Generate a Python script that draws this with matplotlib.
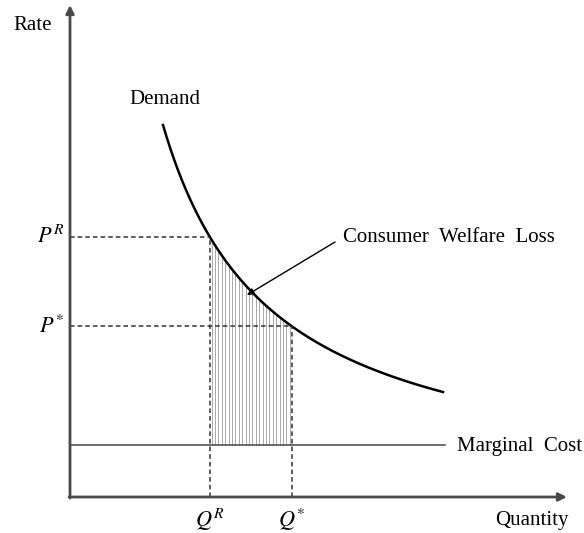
import numpy as np
import matplotlib
matplotlib.use("Agg")
import matplotlib.pyplot as plt

plt.rcParams['font.family'] = ['Liberation Serif', 'DejaVu Serif']
plt.rcParams['mathtext.fontset'] = 'stix'

# Conceptual values (economic coordinates)
demand_A, demand_b, demand_c = 39958.0, 15.0, 2.0   # P = A/(Q+b) + c
q_range = [93, 373]
Q_R = 140
Q_star = 222
MC = 52
MC_end = 375
x_axis_end = 497
y_axis_end = 492

def demand(q):
    return demand_A / (np.asarray(q) + demand_b) + demand_c

P_R = float(demand(Q_R))
P_star = float(demand(Q_star))

fig = plt.figure(figsize=(5.84, 5.33), dpi=100)
ax = fig.add_axes([0, 0, 1, 1])
ax.set_xlim(-70, 514)
ax.set_ylim(-36, 497)
ax.axis('off')

axcol = '#4a4a4a'
# axes with arrows
ax.annotate('', xy=(0, y_axis_end), xytext=(0, -1),
            arrowprops=dict(arrowstyle='-|>', color=axcol, lw=2, mutation_scale=12, shrinkA=0, shrinkB=0))
ax.annotate('', xy=(x_axis_end, 0), xytext=(-1, 0),
            arrowprops=dict(arrowstyle='-|>', color=axcol, lw=2, mutation_scale=12, shrinkA=0, shrinkB=0))

# hatched welfare region
xs = np.arange(Q_R + 1.5, Q_star, 3.4)
ax.vlines(xs, MC, demand(xs), color='#a8a8a8', lw=0.7)

# demand curve
q = np.linspace(q_range[0], q_range[1], 300)
ax.plot(q, demand(q), color='black', lw=1.8)

# marginal cost
ax.plot([0, MC_end], [MC, MC], color='#444444', lw=1.1)

# dashed guides
dash = dict(color='#333333', lw=1.1, linestyle=(0, (3, 2)))
ax.plot([0, Q_R], [P_R, P_R], **dash)
ax.plot([0, Q_star], [P_star, P_star], **dash)
ax.plot([Q_R, Q_R], [0, P_R], **dash)
ax.plot([Q_star, Q_star], [0, P_star], **dash)

# labels
fs = 15
ax.text(-37, 472, 'Rate', fontsize=fs, ha='center', va='center')
ax.text(95, 397, 'Demand', fontsize=fs, ha='center', va='center')
ax.text(273, 260, 'Consumer  Welfare  Loss', fontsize=fs, ha='left', va='center')
ax.text(387, 50, 'Marginal  Cost', fontsize=fs, ha='left', va='center')
ax.text(462, -23, 'Quantity', fontsize=fs, ha='center', va='center')
ax.text(Q_R, -23, r'$Q^R$', fontsize=16, ha='center', va='center')
ax.text(Q_star, -23, r'$Q^{*}$', fontsize=16, ha='center', va='center')
ax.text(-6, P_R, r'$P^R$', fontsize=16, ha='right', va='center')
ax.text(-6, P_star, r'$P^{*}$', fontsize=16, ha='right', va='center')

ax.annotate('', xy=(177, 202), xytext=(265, 255),
            arrowprops=dict(arrowstyle='-|>', color='black', lw=1.0, mutation_scale=10, shrinkA=0, shrinkB=0))

fig.savefig('out.png', dpi=100)
